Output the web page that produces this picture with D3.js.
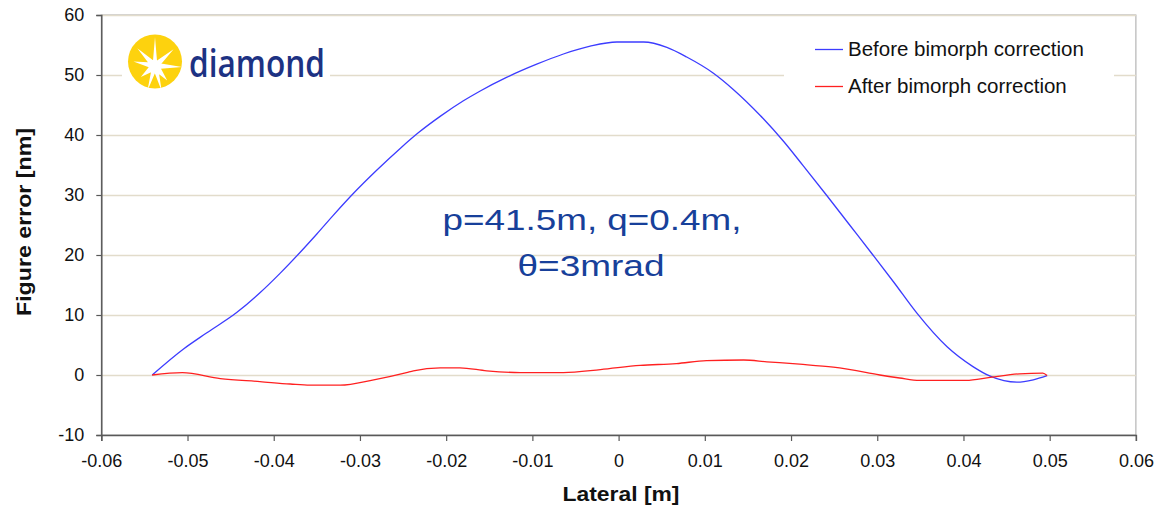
<!DOCTYPE html>
<html>
<head>
<meta charset="utf-8">
<script src="https://cdn.jsdelivr.net/npm/d3@7/dist/d3.min.js"></script>
<style>
  html, body { margin: 0; padding: 0; background: #ffffff; }
  svg { display: block; font-family: "Liberation Sans", Arial, sans-serif; }
</style>
</head>
<body>
<svg id="chart" width="1169" height="508"></svg>
<script>
// Lateral position [m] and figure error [nm] before the bimorph mirror was corrected
const lateralBefore = [-0.0541, -0.0505, -0.0478, -0.0443, -0.0416, -0.0393, -0.0369, -0.0350, -0.0331, -0.0308,
  -0.0280, -0.0253, -0.0232, -0.0207, -0.0180, -0.0161, -0.0130, -0.0095, -0.0064, -0.0033, -0.0002,
  0.0029, 0.0056, 0.0079, 0.0110, 0.0133, 0.0164, 0.0191, 0.0214, 0.0241, 0.0268, 0.0295, 0.0319,
  0.0346, 0.0381, 0.0411, 0.0431, 0.0462, 0.0481, 0.0497];
const errorBefore = [0, 4.3, 7.0, 10.4, 13.7, 16.9, 20.5, 23.5, 26.6, 30.2,
  34.2, 37.8, 40.4, 43.1, 45.7, 47.3, 49.6, 51.8, 53.5, 54.8, 55.5,
  55.5, 54.6, 53.0, 50.3, 47.6, 43.3, 39.0, 34.9, 30.0, 25.0, 20.0, 15.5,
  10.3, 4.7, 1.4, -0.2, -1.2, -0.8, -0.1];

// Figure error after correction
const lateralAfter = [-0.0541, -0.0506, -0.0462, -0.0416, -0.0381, -0.0358, -0.0323, -0.0284, -0.0246, -0.0238,
  -0.0207, -0.0184, -0.0153, -0.0114, -0.0099, -0.0064, -0.0021, 0.0025, 0.0067, 0.0102,
  0.0145, 0.0172, 0.0210, 0.0249, 0.0288, 0.0303, 0.0326, 0.0349, 0.0403, 0.0431,
  0.0465, 0.0492, 0.0497];
const errorAfter = [0, 0.4, -0.6, -1.1, -1.5, -1.7, -1.7, -0.8, 0.4, 0.7,
  1.2, 1.2, 0.7, 0.4, 0.4, 0.4, 0.9, 1.6, 1.9, 2.4,
  2.5, 2.2, 1.8, 1.3, 0.4, 0.0, -0.5, -0.9, -0.9, -0.4,
  0.2, 0.3, -0.1];

const seriesNames = ["Before bimorph correction", "After bimorph correction"];
const seriesColors = ["#3c3cff", "#ff2020"];

const xTickValues = [-0.06, -0.05, -0.04, -0.03, -0.02, -0.01, 0, 0.01, 0.02, 0.03, 0.04, 0.05, 0.06];
const xTickLabels = ["-0.06", "-0.05", "-0.04", "-0.03", "-0.02", "-0.01", "0", "0.01", "0.02", "0.03", "0.04", "0.05", "0.06"];
const yTickValues = [-10, 0, 10, 20, 30, 40, 50, 60];
const yTickLabels = ["-10", "0", "10", "20", "30", "40", "50", "60"];

const svg = d3.select("#chart");

const x = d3.scaleLinear().domain([-0.06, 0.06]).range([101.3, 1135.9]);
const y = d3.scaleLinear().domain([-10, 60]).range([435, 15]);

// plot area frame
svg.append("rect")
  .attr("x", x(-0.06)).attr("y", y(60))
  .attr("width", x(0.06) - x(-0.06)).attr("height", y(-10) - y(60))
  .attr("fill", "#ffffff").attr("stroke", "#a6a6a6").attr("stroke-width", 1);

// horizontal gridlines
svg.append("g")
  .selectAll("line")
  .data(yTickValues.filter(v => v > -10))
  .join("line")
  .attr("x1", x(-0.06)).attr("x2", x(0.06))
  .attr("y1", d => Math.round(y(d)) + 0.5).attr("y2", d => Math.round(y(d)) + 0.5)
  .attr("stroke", "#e2dccb").attr("stroke-width", 1.3);

// y axis
const yAxis = d3.axisLeft(y)
  .tickValues(yTickValues)
  .tickFormat((d, i) => yTickLabels[i])
  .tickSize(5).tickPadding(12);
const gy = svg.append("g").attr("transform", `translate(${x(-0.06)},0)`).call(yAxis);
gy.select(".domain").attr("stroke", "#595959").attr("stroke-width", 1.5);
gy.selectAll(".tick line").attr("stroke", "#595959").attr("stroke-width", 1.2);
gy.selectAll(".tick text").attr("font-size", 18).attr("fill", "#111")
  .attr("font-family", "Liberation Sans, Arial, sans-serif");

// x axis
const xAxis = d3.axisBottom(x)
  .tickValues(xTickValues)
  .tickFormat((d, i) => xTickLabels[i])
  .tickSize(6).tickPadding(13);
const gx = svg.append("g").attr("transform", `translate(0,${y(-10)})`).call(xAxis);
gx.select(".domain").attr("stroke", "#595959").attr("stroke-width", 1.5);
gx.selectAll(".tick line").attr("stroke", "#595959").attr("stroke-width", 1.2);
gx.selectAll(".tick text").attr("font-size", 18).attr("fill", "#111")
  .attr("font-family", "Liberation Sans, Arial, sans-serif");

// axis titles
svg.append("text")
  .attr("x", 621).attr("y", 501)
  .attr("text-anchor", "middle")
  .attr("font-size", 20).attr("font-weight", "bold").attr("fill", "#111")
  .attr("textLength", 117).attr("lengthAdjust", "spacingAndGlyphs")
  .text("Lateral [m]");

svg.append("text")
  .attr("transform", "translate(31,222) rotate(-90)")
  .attr("text-anchor", "middle")
  .attr("font-size", 20).attr("font-weight", "bold").attr("fill", "#111")
  .attr("textLength", 188).attr("lengthAdjust", "spacingAndGlyphs")
  .text("Figure error [nm]");

// logo with its white backing
const logo = svg.append("g");
logo.append("rect").attr("x", 122).attr("y", 30).attr("width", 208).attr("height", 62).attr("fill", "#ffffff");
logo.append("circle").attr("cx", 155).attr("cy", 61.5).attr("r", 27).attr("fill", "#fdd20e");
const burst = [[0, 29, 2.2], [48, 25, 3], [92, 27, 3], [140, 19, 3.5], [165, 26, 2.5], [197, 26, 2.5], [232, 18, 3.5], [282, 22, 3], [315, 25, 3]];
const cx0 = 155, cy0 = 66;
let starPts = [];
burst.forEach(([deg, len, half]) => {
  const a = (deg - 90) * Math.PI / 180;
  const nx = -Math.sin(a), ny = Math.cos(a);
  starPts.push([cx0 + Math.cos(a) * 3 + nx * half, cy0 + Math.sin(a) * 3 + ny * half]);
  starPts.push([cx0 + Math.cos(a) * len, cy0 + Math.sin(a) * len]);
  starPts.push([cx0 + Math.cos(a) * 3 - nx * half, cy0 + Math.sin(a) * 3 - ny * half]);
});
const clip = svg.append("clipPath").attr("id", "sunclip");
clip.append("circle").attr("cx", 155).attr("cy", 61.5).attr("r", 27);
logo.append("path")
  .attr("d", "M" + starPts.map(p => p.join(",")).join("L") + "Z")
  .attr("fill", "#ffffff")
  .attr("clip-path", "url(#sunclip)");
logo.append("circle").attr("cx", cx0).attr("cy", cy0).attr("r", 5).attr("fill", "#ffffff");
logo.append("text")
  .attr("x", 189).attr("y", 77)
  .attr("font-size", 38).attr("font-weight", 600).attr("fill", "#1d3283")
  .attr("font-family", "Open Sans, Liberation Sans, sans-serif")
  .attr("textLength", 136).attr("lengthAdjust", "spacingAndGlyphs")
  .text("diamond");

// data lines
const line = d3.line()
  .x(d => x(d[0]))
  .y(d => y(d[1]))
  .curve(d3.curveMonotoneX);

const seriesData = [
  d3.zip(lateralBefore, errorBefore),
  d3.zip(lateralAfter, errorAfter)
];

svg.append("g")
  .selectAll("path")
  .data(seriesData)
  .join("path")
  .attr("d", line)
  .attr("fill", "none")
  .attr("stroke", (d, i) => seriesColors[i])
  .attr("stroke-width", 1.3)
  .attr("stroke-linejoin", "round");

// legend
const legend = svg.append("g");
legend.append("rect").attr("x", 784).attr("y", 28).attr("width", 330).attr("height", 78).attr("fill", "#ffffff");
const legendRows = [49, 86];
seriesNames.forEach((name, i) => {
  legend.append("line")
    .attr("x1", 815).attr("x2", 843)
    .attr("y1", legendRows[i] + 0.5).attr("y2", legendRows[i] + 0.5)
    .attr("stroke", seriesColors[i]).attr("stroke-width", 1.3);
  legend.append("text")
    .attr("x", 848).attr("y", legendRows[i] + 7)
    .attr("font-size", 20.5).attr("fill", "#111")
    .text(name);
});

// optics parameters note
const note = svg.append("g").attr("fill", "#17409a").attr("font-size", 30);
note.append("text")
  .attr("x", 592).attr("y", 230).attr("text-anchor", "middle")
  .attr("textLength", 299).attr("lengthAdjust", "spacingAndGlyphs")
  .text("p=41.5m, q=0.4m,");
note.append("text")
  .attr("x", 591).attr("y", 276).attr("text-anchor", "middle")
  .attr("textLength", 147).attr("lengthAdjust", "spacingAndGlyphs")
  .text("θ=3mrad");
</script>
</body>
</html>
